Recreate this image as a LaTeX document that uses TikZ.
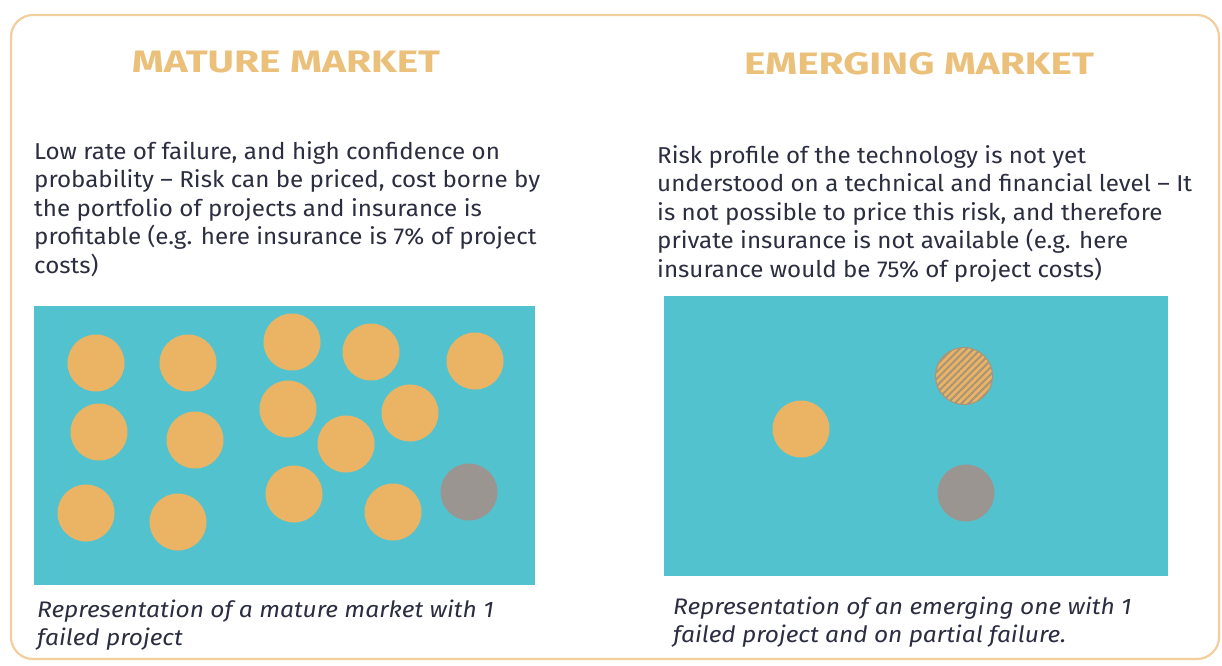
\documentclass[tikz,border=0pt]{standalone}
\usepackage{fontspec}
\setmainfont{Fira Sans}
\usetikzlibrary{patterns.meta}
\definecolor{frameorange}{HTML}{F1CE9C}
\definecolor{titleorange}{HTML}{EBC07A}
\definecolor{boardteal}{HTML}{52C3CE}
\definecolor{coinorange}{HTML}{EBB465}
\definecolor{failgray}{HTML}{9A9591}
\definecolor{stripegray}{HTML}{A89479}
\definecolor{inktext}{HTML}{2B2D40}
\begin{document}
\begin{tikzpicture}[x=1pt,y=-1pt,
	title/.style={inner sep=0pt,text=titleorange,
		font=\fontsize{31}{31}\selectfont\bfseries\addfontfeature{FakeStretch=1.31}},
	body/.style={inner sep=0pt,anchor=north west,align=left,text=inktext,
		font=\fontsize{23}{28.5}\selectfont\addfontfeature{FakeStretch=1.05}},
	caption/.style={body,font=\fontsize{22.5}{28}\selectfont\itshape\addfontfeature{FakeStretch=1.09}}]
	{
		\def\coinr{28.5pt}
		\useasboundingbox (0,0) rectangle (1222,665);
		\draw[frameorange, line width=2.2pt, rounded corners=22pt] (11,15) rectangle (1219,659);

		% mature market
		\node[title] (mtitle) at (286,62) {MATURE MARKET};
		\node[body] (mtext) at (34,141) {Low rate of failure, and high confidence on\\
			probability -- Risk can be priced, cost borne by\\
			the portfolio of projects and insurance is\\
			profitable (e.g. here insurance is 7\% of project\\
			costs)};
		\fill[boardteal] (34,306) rectangle (535,585);
		\foreach \cx/\cy in {96/363,188/363,292/342,371/352,475/361,99/432,195/440,
			288/409,410/413,346/444,86/513,178/522,294/494,393/512}
		{
			\fill[coinorange] (\cx,\cy) circle (\coinr);
		}
		\fill[failgray] (469,492) circle (\coinr);
		\node[caption] (mcap) at (37,600) {Representation of a mature market with 1\\
			failed project};

		% emerging market
		\node[title] (etitle) at (919,64) {EMERGING MARKET};
		\node[body] (etext) at (657,145) {Risk profile of the technology is not yet\\
			understood on a technical and financial level -- It\\
			is not possible to price this risk, and therefore\\
			private insurance is not available (e.g. here\\
			insurance would be 75\% of project costs)};
		\fill[boardteal] (664,296) rectangle (1168,576);
		\fill[coinorange] (801,429) circle (\coinr);
		\fill[coinorange] (964,376) circle (\coinr);
		\fill[pattern={Lines[angle=45,distance=5pt,line width=2pt]},pattern color=stripegray]
			(964,376) circle (\coinr);
		\draw[stripegray, line width=1pt] (964,376) circle (\coinr);
		\fill[failgray] (966,493) circle (\coinr);
		\node[caption] (ecap) at (673,597) {Representation of an emerging one with 1\\
			failed project and on partial failure.};
	}
\end{tikzpicture}
\end{document}
